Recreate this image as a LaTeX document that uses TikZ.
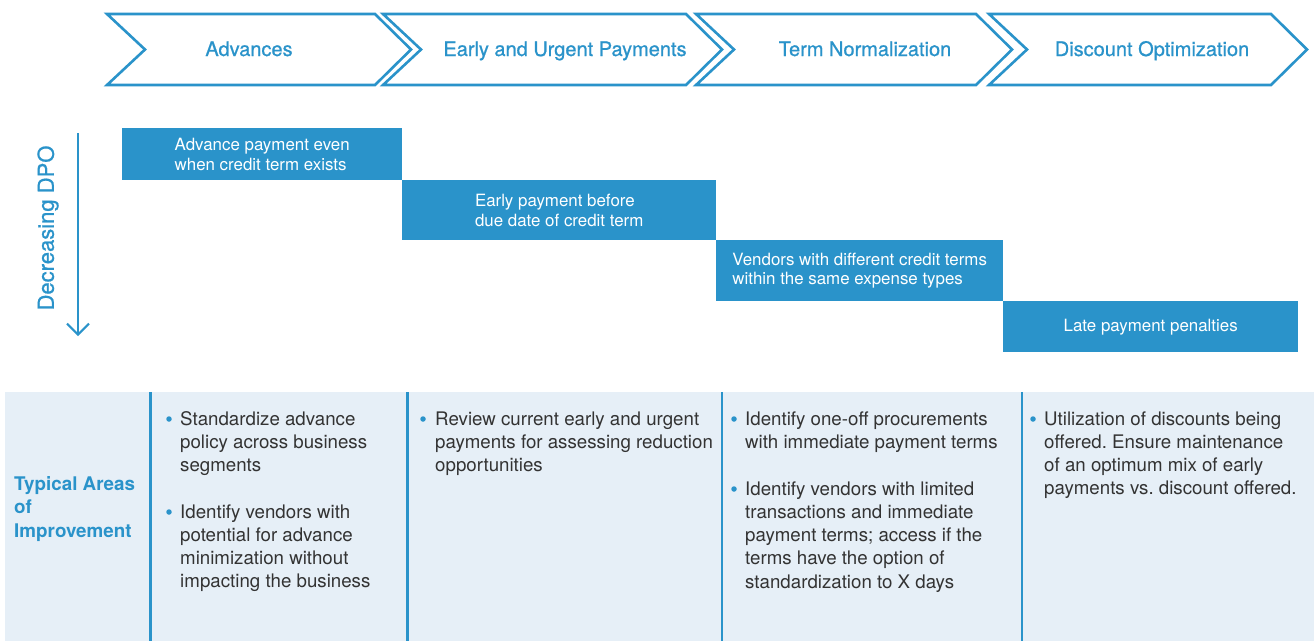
\documentclass[tikz,border=0pt]{standalone}
\usepackage{fontspec}
\setmainfont{TeX Gyre Heros}
\newfontfamily\medfont[FakeBold=0.8]{TeX Gyre Heros}
\usetikzlibrary{arrows.meta}
\definecolor{accent}{HTML}{2A93CA}
\definecolor{pale}{HTML}{E6EFF7}
\definecolor{ink}{HTML}{333333}
\frenchspacing
\tikzset{
  chev/.style={draw=accent, line width=2.6pt, line join=miter, fill=white},
  chevtext/.style={text=accent, font=\medfont\fontsize{20}{24}\selectfont, inner sep=0pt, anchor=base},
  stepbox/.style={fill=accent, text=white, align=left, inner sep=0pt, anchor=north west,
    font=\fontsize{16.9}{19.6}\selectfont},
  coltext/.style={anchor=base west, align=left, inner sep=0pt, text=ink,
    font=\fontsize{18.7}{23.3}\selectfont},
  bul/.style={circle, fill=accent, inner sep=0pt, minimum size=5.5pt},
  sep/.style={draw=accent, line width=2.6pt},
}
\begin{document}
\begin{tikzpicture}[x=1pt,y=-1pt]
\useasboundingbox[fill=white] (0,0) rectangle (1314,641);

% chevrons
\draw[chev] (107,14) -- (375,14) -- (411,49.5) -- (375,85) -- (107,85) -- (145,49.5) -- cycle;
\draw[chev] (383,14) -- (686,14) -- (722,49.5) -- (686,85) -- (383,85) -- (421,49.5) -- cycle;
\draw[chev] (696,14) -- (976,14) -- (1012,49.5) -- (976,85) -- (696,85) -- (734,49.5) -- cycle;
\draw[chev] (989,14) -- (1271,14) -- (1307,49.5) -- (1271,85) -- (989,85) -- (1027,49.5) -- cycle;
\node[chevtext] (t1) at (249,56) {Advances};
\node[chevtext] (t2) at (565,56) {Early and Urgent Payments};
\node[chevtext] (t3) at (865,56) {Term Normalization};
\node[chevtext] (t4) at (1152,56) {Discount Optimization};

% decreasing DPO arrow
\coordinate (dtop) at (78,133);
\coordinate (dbot) at (78,336);
\draw[accent, line width=2pt, -{Straight Barb[length=11pt,width=22pt,line width=2pt]}] (dtop) -- (dbot);
\node[rotate=90, text=accent, font=\medfont\fontsize{22}{26}\selectfont, inner sep=0pt] (dpo) at (48,228) {Decreasing DPO};

% steps
\node[stepbox, minimum width=280pt, minimum height=52pt] (s1) at (122,128) {Advance payment even\\when credit term exists};
\node[stepbox, minimum width=314pt, minimum height=60pt] (s2) at (402,180) {Early payment before\\due date of credit term};
\node[stepbox, minimum width=287pt, minimum height=61pt] (s3) at (716,240) {Vendors with different credit terms\\within the same expense types};
\node[stepbox, minimum width=295pt, minimum height=51pt] (s4) at (1003,301) {Late payment penalties};

% table
\fill[pale] (5,392) rectangle (1314,641);
\draw[sep] (150.5,392) -- (150.5,641);
\draw[sep] (407.5,392) -- (407.5,641);
\draw[sep] (722,392) -- (722,641);
\draw[sep] (1022,392) -- (1022,641);

% (multi-line nodes: base anchor = baseline of the last line)
\node[anchor=base west, align=left, inner sep=0pt, text=accent,
  font=\bfseries\fontsize{18.8}{23.5}\selectfont] (tai) at (14,537) {Typical Areas\\of\\Improvement};

\node[bul] (b1) at (169,419) {};
\node[coltext] (c1a) at (180,471.6) {Standardize advance\\policy across business\\segments};
\node[bul] (b2) at (169,512) {};
\node[coltext] (c1b) at (180,587.9) {Identify vendors with\\potential for advance\\minimization without\\impacting the business};

\node[bul] (b3) at (423,419) {};
\node[coltext] (c2a) at (435,471.6) {Review current early and urgent\\payments for assessing reduction\\opportunities};

\node[bul] (b4) at (734,419) {};
\node[coltext] (c3a) at (745,448.3) {Identify one-off procurements\\with immediate payment terms};
\node[bul] (b5) at (734,489) {};
\node[coltext] (c3b) at (745,588.2) {Identify vendors with limited\\transactions and immediate\\payment terms; access if the\\terms have the option of\\standardization to X days};

\node[bul] (b6) at (1033,419) {};
\node[coltext] (c4a) at (1044,494.9) {Utilization of discounts being\\offered. Ensure maintenance\\of an optimum mix of early\\payments vs. discount offered.};
\end{tikzpicture}
\end{document}
